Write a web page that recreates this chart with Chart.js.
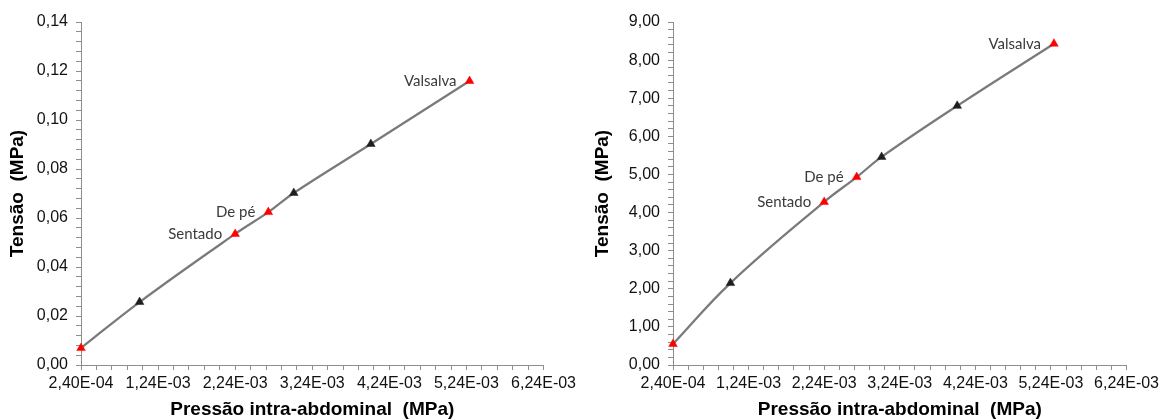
<!DOCTYPE html>
<html>
<head>
<meta charset="utf-8">
<script src="https://cdn.jsdelivr.net/npm/chart.js@4/dist/chart.umd.min.js"></script>
<style>
  html, body { margin: 0; padding: 0; background: #fff; }
  #wrap { position: relative; width: 1163px; height: 419px; overflow: hidden; }
  .box { position: absolute; top: 0; height: 419px; }
  #boxA { left: 0; width: 580px; }
  #boxB { left: 585px; width: 578px; }
</style>
</head>
<body>
<div id="wrap">
  <div class="box" id="boxA"><canvas id="chartA"></canvas></div>
  <div class="box" id="boxB"><canvas id="chartB"></canvas></div>
</div>
<script>
// Intra-abdominal pressure (MPa) for each posture / manoeuvre
const pressure = [0.00024, 0.00100, 0.00224, 0.00267, 0.00300, 0.00400, 0.00528];
// Stress (MPa) in the two models
const stressA = [0.0069, 0.0257, 0.0535, 0.0624, 0.0702, 0.0902, 0.1159];
const stressB = [0.55, 2.15, 4.28, 4.93, 5.46, 6.80, 8.43];
// Point annotations and which points are highlighted
const pointNames = [null, null, 'Sentado', 'De pé', null, null, 'Valsalva'];
const highlighted = [true, false, true, true, false, false, true];

// Axis settings
const xMin = 0.00024, xMax = 0.00624, xMajor = 0.001, xMinor = 0.0002;
const yA = { min: 0, max: 0.14, major: 0.02, minor: 0.004 };
const yB = { min: 0, max: 9, major: 1, minor: 0.2 };

const xTitle = 'Pressão intra-abdominal  (MPa)';
const yTitle = 'Tensão  (MPa)';

const AXIS_GREY = '#8c8c8c';
const TICK_FONT = { family: 'Liberation Sans, Arial, sans-serif', size: 16 };
const TITLE_FONT = { family: 'Liberation Sans, Arial, sans-serif', size: 19, weight: 'bold', lineHeight: 1 };

function fmtSci(v) {
  const [m, e] = v.toExponential(2).split('e');
  const sign = e[0] === '-' ? '-' : '+';
  const ex = String(Math.abs(parseInt(e, 10))).padStart(2, '0');
  return m.replace('.', ',') + 'E' + sign + ex;
}
function fmtFixed(v) { return v.toFixed(2).replace('.', ','); }
function isMajor(v, base, step) {
  const r = (v - base) / step;
  return Math.abs(r - Math.round(r)) < 1e-6;
}
function stepTicks(min, max, step) {
  const out = [];
  const n = Math.round((max - min) / step);
  for (let i = 0; i <= n; i++) out.push({ value: +(min + i * step).toPrecision(10) });
  return out;
}

// Writes each point's name to the left of its marker
const pointNamePlugin = {
  id: 'pointNames',
  afterDatasetsDraw(chart) {
    const meta = chart.getDatasetMeta(0);
    const ctx = chart.ctx;
    ctx.save();
    ctx.font = '15px Lato, "Open Sans", sans-serif';
    ctx.fillStyle = '#3a3a3a';
    ctx.textAlign = 'right';
    ctx.textBaseline = 'middle';
    meta.data.forEach((pt, i) => {
      const name = pointNames[i];
      if (!name) return;
      ctx.fillText(name, pt.x - 13, pt.y);
    });
    ctx.restore();
  }
};

function makeChart(id, values, ys, leftW) {
  const data = pressure.map((x, i) => ({ x, y: values[i] }));
  const colors = highlighted.map(h => h ? '#ff0000' : '#1e1e1e');
  return new Chart(document.getElementById(id), {
    type: 'scatter',
    data: {
      datasets: [{
        data,
        showLine: true,
        clip: false,
        borderColor: '#7a7a7a',
        borderWidth: 2.25,
        tension: 0.4,
        pointStyle: 'triangle',
        pointRadius: 5,
        pointHoverRadius: 5,
        pointBackgroundColor: colors,
        pointBorderColor: colors,
        pointBorderWidth: 0.5
      }]
    },
    options: {
      responsive: true,
      maintainAspectRatio: false,
      animation: false,
      layout: { padding: { top: 22, right: 0, bottom: 0, left: 0 } },
      plugins: { legend: { display: false }, tooltip: { enabled: false } },
      scales: {
        x: {
          type: 'linear',
          min: xMin, max: xMax,
          afterBuildTicks(scale) { scale.ticks = stepTicks(xMin, xMax, xMinor); },
          afterFit(scale) { scale.height = 54; },
          grid: { drawOnChartArea: false, drawTicks: true, tickLength: 5, color: AXIS_GREY, tickColor: AXIS_GREY },
          border: { color: AXIS_GREY, width: 1 },
          ticks: {
            autoSkip: false, maxRotation: 0, padding: 4, color: '#111', font: TICK_FONT,
            callback(v) { return isMajor(v, xMin, xMajor) ? fmtSci(v) : ''; }
          },
          title: { display: true, text: xTitle, color: '#000', font: TITLE_FONT, padding: { top: 0, bottom: 0 } }
        },
        y: {
          type: 'linear',
          min: ys.min, max: ys.max,
          afterBuildTicks(scale) { scale.ticks = stepTicks(ys.min, ys.max, ys.minor); },
          afterFit(scale) { scale.width = leftW; },
          grid: { drawOnChartArea: false, drawTicks: true, tickLength: 5, color: AXIS_GREY, tickColor: AXIS_GREY },
          border: { color: AXIS_GREY, width: 1 },
          ticks: {
            autoSkip: false, padding: 8, color: '#111', font: TICK_FONT,
            callback(v) { return isMajor(v, ys.min, ys.major) ? fmtFixed(v) : ''; }
          },
          title: { display: true, text: yTitle, color: '#000', font: TITLE_FONT, padding: { top: 8, bottom: 0 } }
        }
      }
    },
    plugins: [pointNamePlugin]
  });
}

makeChart('chartA', stressA, yA, 81);
makeChart('chartB', stressB, yB, 88);
</script>
</body>
</html>
